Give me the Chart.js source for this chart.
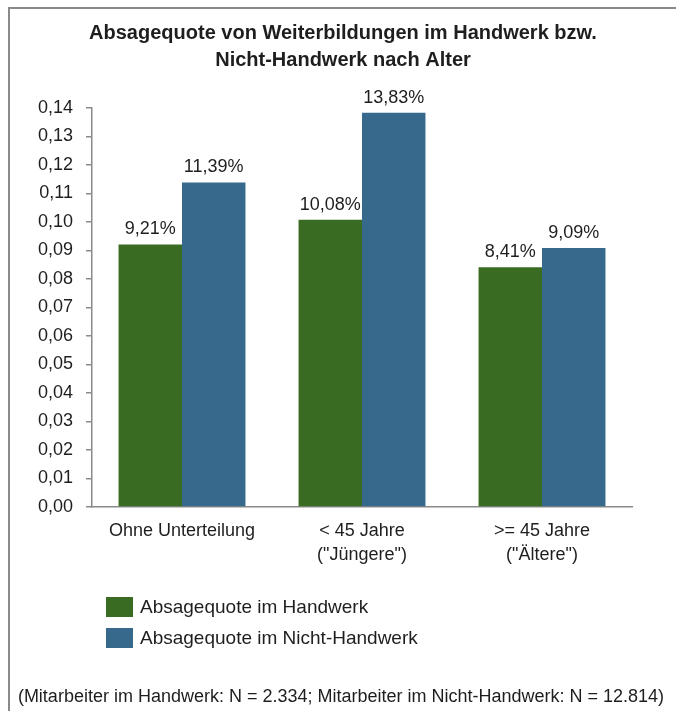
<!DOCTYPE html>
<html>
<head>
<meta charset="utf-8">
<script src="https://cdn.jsdelivr.net/npm/chart.js@4/dist/chart.umd.min.js"></script>
<style>
  html, body { margin: 0; padding: 0; background: #ffffff; }
  #wrap { position: relative; width: 676px; height: 711px; overflow: hidden; }
  #frame {
    position: absolute; left: 8px; top: 7px; right: -10px; bottom: -10px;
    border-top: 2px solid #8a8a8a; border-left: 2px solid #8a8a8a;
    pointer-events: none;
  }
  canvas { position: absolute; left: 0; top: 0; }
</style>
</head>
<body>
<div id="wrap">
  <canvas id="chart" width="676" height="711"></canvas>
  <div id="frame"></div>
</div>
<script>
// Chart content
const titleLines = ['Absagequote von Weiterbildungen im Handwerk bzw.', 'Nicht-Handwerk nach Alter'];
const categories = ['Ohne Unterteilung', ['< 45 Jahre', '("Jüngere")'], ['>= 45 Jahre', '("Ältere")']];
const seriesNames = ['Absagequote im Handwerk', 'Absagequote im Nicht-Handwerk'];
const handwerk = [0.0921, 0.1008, 0.0841];
const nichtHandwerk = [0.1139, 0.1383, 0.0909];
const yMin = 0, yMax = 0.14, yStep = 0.01;
const footnote = '(Mitarbeiter im Handwerk: N = 2.334; Mitarbeiter im Nicht-Handwerk: N = 12.814)';

const GREEN = '#3a6b23';
const BLUE = '#37698c';
const AXIS = '#8a8a8a';
const TEXT = '#1e1e1e';
const FONT = '"Liberation Sans", Arial, sans-serif';

const comma = (v, d) => v.toFixed(d).replace('.', ',');

// Percentage labels above each bar
const valueLabels = {
  id: 'valueLabels',
  afterDatasetsDraw(chart) {
    const ctx = chart.ctx;
    ctx.save();
    ctx.font = '18px ' + FONT;
    ctx.fillStyle = TEXT;
    ctx.textAlign = 'center';
    ctx.textBaseline = 'middle';
    chart.data.datasets.forEach((ds, i) => {
      chart.getDatasetMeta(i).data.forEach((bar, j) => {
        ctx.fillText(comma(ds.data[j] * 100, 2) + '%', bar.x, bar.y - 15);
      });
    });
    ctx.restore();
  }
};

// Title, stacked legend and footnote
const annotations = {
  id: 'annotations',
  afterDraw(chart) {
    const ctx = chart.ctx;
    ctx.save();
    ctx.fillStyle = TEXT;
    ctx.textAlign = 'center';
    ctx.textBaseline = 'middle';
    ctx.font = 'bold 20px ' + FONT;
    titleLines.forEach((t, i) => ctx.fillText(t, 343, 33 + i * 27));

    ctx.textAlign = 'left';
    ctx.font = '19px ' + FONT;
    chart.data.datasets.forEach((ds, i) => {
      const cy = 607 + i * 31;
      ctx.fillStyle = ds.backgroundColor;
      ctx.fillRect(106, cy - 10, 27, 20);
      ctx.fillStyle = TEXT;
      ctx.fillText(ds.label, 140, cy + 1);
    });

    ctx.textAlign = 'center';
    ctx.font = '18px ' + FONT;
    ctx.fillText(footnote, 341, 697);
    ctx.restore();
  }
};

new Chart(document.getElementById('chart'), {
  type: 'bar',
  data: {
    labels: categories,
    datasets: [
      { label: seriesNames[0], data: handwerk, backgroundColor: GREEN },
      { label: seriesNames[1], data: nichtHandwerk, backgroundColor: BLUE }
    ]
  },
  options: {
    responsive: false,
    animation: false,
    devicePixelRatio: 1,
    layout: { padding: { top: 108, right: 44, bottom: 134, left: 12 } },
    categoryPercentage: 0.705,
    barPercentage: 1.0,
    plugins: {
      legend: { display: false },
      title: { display: false },
      tooltip: { enabled: false }
    },
    scales: {
      x: {
        grid: { display: false, drawTicks: false },
        border: { display: true, color: AXIS, width: 1.5 },
        ticks: {
          color: TEXT, padding: 12, maxRotation: 0, autoSkip: false,
          font: { family: FONT, size: 18, lineHeight: 1.33 }
        },
        afterFit(scale) { scale.height = 70; }
      },
      y: {
        min: yMin, max: yMax,
        grid: { drawOnChartArea: false, drawTicks: true, tickLength: 6, color: AXIS, lineWidth: 1.5 },
        border: { display: true, color: AXIS, width: 1.5 },
        ticks: {
          stepSize: yStep, color: TEXT, padding: 13,
          font: { family: FONT, size: 18 },
          callback: (v) => comma(v, 2)
        },
        afterFit(scale) { scale.width = 80; }
      }
    }
  },
  plugins: [valueLabels, annotations]
});
</script>
</body>
</html>
